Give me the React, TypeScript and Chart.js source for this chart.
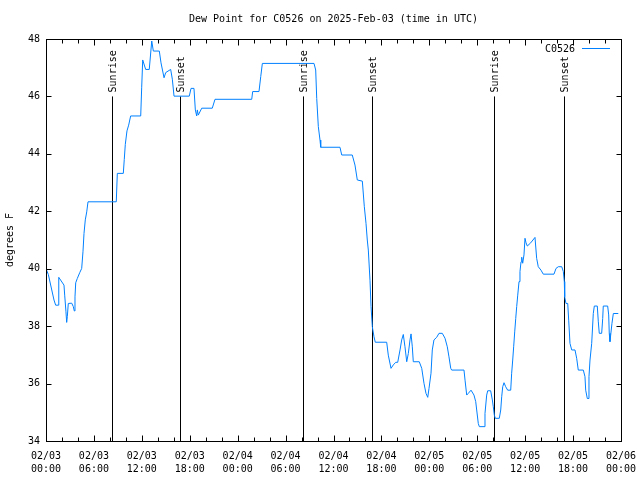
import React, { useEffect, useRef } from 'react';
import { Chart, registerables } from 'chart.js';

Chart.register(...registerables);

// Hours since 2025-02-03 00:00 UTC
const hours = [
  0.0, 0.29, 1.0, 1.21, 1.54, 1.6, 2.25, 2.34, 2.5, 2.59, 2.67, 2.79, 3.22, 3.42, 3.54, 3.63, 3.72, 3.92, 4.22, 4.47,
  4.63, 4.76, 4.92, 5.1, 5.26, 8.8, 8.93, 9.68, 9.8, 9.93, 10.14, 10.35, 10.6, 11.86, 11.98, 12.11, 12.48, 12.93, 13.24, 13.44,
  14.19, 14.4, 14.78, 14.99, 15.61, 15.82, 16.03, 17.94, 18.16, 18.53, 18.7, 18.87, 18.95, 19.07, 19.5, 20.82, 21.16, 25.76, 25.88, 26.67,
  26.89, 27.09, 33.56, 33.77, 33.9, 34.1, 34.31, 34.4, 36.81, 37.03, 38.35, 38.69, 38.98, 39.61, 39.86, 40.07, 40.23, 40.36, 40.57, 40.7,
  40.86, 41.07, 41.23, 42.66, 42.86, 43.2, 43.49, 43.79, 44.04, 44.33, 44.54, 44.74, 44.95, 45.17, 45.37, 45.58, 45.71, 45.87, 45.99, 46.74,
  47.05, 47.33, 47.58, 47.8, 47.96, 48.21, 48.37, 48.58, 48.92, 49.21, 49.62, 49.96, 50.25, 50.46, 50.68, 50.8, 52.34, 52.47, 52.68, 52.88,
  53.22, 53.59, 53.81, 53.93, 54.13, 54.26, 54.85, 54.97, 55.18, 55.31, 55.68, 55.89, 56.01, 56.14, 56.26, 56.76, 56.94, 57.06, 57.19, 57.35,
  57.56, 57.81, 58.19, 58.31, 58.44, 58.56, 58.69, 58.82, 58.94, 59.07, 59.23, 59.35, 59.48, 59.57, 59.69, 59.85, 59.98, 60.11, 60.27, 60.69,
  61.23, 61.44, 61.64, 61.98, 62.27, 63.61, 63.86, 64.15, 64.58, 64.78, 64.9, 64.95, 65.11, 65.33, 65.45, 65.61, 65.83, 66.24, 66.45, 66.65,
  67.28, 67.49, 67.58, 67.78, 67.87, 67.99, 68.12, 68.33, 68.53, 68.66, 69.03, 69.16, 69.28, 69.58, 69.71, 69.78, 70.33, 70.46, 70.53, 70.62,
  70.71, 70.87, 71.04, 71.66,
];

// Dew point, degrees F
const dewF = [
  40.0, 39.8, 38.91, 38.73, 38.73, 39.7, 39.43, 39.08, 38.5, 38.13, 38.33, 38.79, 38.8, 38.68, 38.53, 39.02, 39.51, 39.66, 39.86, 40.01,
  40.59, 41.23, 41.7, 41.98, 42.33, 42.33, 43.32, 43.32, 43.8, 44.33, 44.8, 45.0, 45.32, 45.32, 46.3, 47.27, 46.94, 46.94, 47.93, 47.58,
  47.58, 47.17, 46.65, 46.83, 46.94, 46.6, 46.01, 46.01, 46.28, 46.28, 45.53, 45.32, 45.53, 45.35, 45.59, 45.59, 45.9, 45.9, 46.17, 46.17,
  46.69, 47.15, 47.15, 46.92, 45.93, 44.95, 44.48, 44.23, 44.23, 43.96, 43.96, 43.61, 43.09, 43.05, 42.16, 41.58, 41.0, 40.65, 39.6, 38.68,
  37.98, 37.63, 37.44, 37.44, 36.99, 36.53, 36.65, 36.74, 36.74, 37.17, 37.52, 37.71, 37.28, 36.76, 37.05, 37.52, 37.73, 37.28, 36.76, 36.76,
  36.53, 36.01, 35.66, 35.52, 35.83, 36.36, 37.17, 37.52, 37.61, 37.75, 37.75, 37.58, 37.28, 36.93, 36.53, 36.47, 36.47, 36.12, 35.6, 35.66,
  35.77, 35.6, 35.37, 35.08, 34.61, 34.5, 34.5, 34.96, 35.6, 35.75, 35.75, 35.43, 35.19, 34.9, 34.79, 34.79, 35.08, 35.54, 35.89, 36.03,
  35.89, 35.77, 35.77, 36.36, 36.82, 37.28, 37.8, 38.27, 38.68, 39.08, 39.55, 39.9, 40.24, 40.4, 40.19, 40.48, 41.06, 40.9, 40.79, 40.9,
  41.09, 40.36, 40.07, 39.95, 39.81, 39.81, 40.01, 40.07, 40.07, 39.9, 39.55, 39.02, 38.79, 38.79, 38.21, 37.4, 37.17, 37.17, 36.88, 36.47,
  36.47, 36.24, 35.77, 35.48, 35.48, 36.24, 36.82, 37.4, 38.44, 38.7, 38.7, 38.15, 37.75, 37.75, 38.27, 38.7, 38.7, 38.39, 37.75, 37.46,
  37.69, 38.1, 38.44, 38.44,
];

const sunHours = [8.27, 16.78, 32.18, 40.82, 56.1, 64.86];
const sunLabels = ['Sunrise', 'Sunset', 'Sunrise', 'Sunset', 'Sunrise', 'Sunset'];
const sunLineTop = 46;

const xMin = 0;
const xMax = 72;
const xMinorStep = 2;
const xLabelStep = 6;
const yMin = 34;
const yMax = 48;
const yStep = 2;

const seriesName = 'C0526';
const titleText = 'Dew Point for C0526 on 2025-Feb-03 (time in UTC)';
const yTitle = 'degrees F';

const FONT = '"DejaVu Sans Mono", "Liberation Mono", monospace';
const LINE_COLOR = 'rgb(0, 128, 255)';

function xLabel(v: number): string | string[] {
  if (Math.abs(v % xLabelStep) > 1e-6) return '';
  const day = 3 + Math.floor(v / 24);
  const hh = Math.round(v % 24);
  return ['02/' + String(day).padStart(2, '0'), String(hh).padStart(2, '0') + ':00'];
}

const overlayPlugin = {
  id: 'gnuplotOverlay',
  beforeDatasetsDraw(chart: any) {
    const { ctx, chartArea, scales } = chart;
    const xs = scales.x;
    const ys = scales.y;
    ctx.save();
    ctx.strokeStyle = '#000';
    ctx.lineWidth = 1;
    ctx.fillStyle = '#000';
    ctx.font = '10px ' + FONT;
    const yTop = ys.getPixelForValue(sunLineTop);
    sunHours.forEach((h, i) => {
      const x = Math.round(xs.getPixelForValue(h)) + 0.5;
      ctx.beginPath();
      ctx.moveTo(x, yTop);
      ctx.lineTo(x, chartArea.bottom);
      ctx.stroke();
      ctx.save();
      ctx.translate(x + 1, yTop - 4);
      ctx.rotate(-Math.PI / 2);
      ctx.textAlign = 'left';
      ctx.textBaseline = 'middle';
      ctx.fillText(sunLabels[i], 0, 0);
      ctx.restore();
    });
    ctx.restore();
  },
  afterDraw(chart: any) {
    const { ctx, chartArea, scales } = chart;
    const xs = scales.x;
    const ys = scales.y;
    const L = Math.round(chartArea.left) + 0.5;
    const R = Math.round(chartArea.right) + 0.5;
    const T = Math.round(chartArea.top) + 0.5;
    const B = Math.round(chartArea.bottom) + 0.5;
    ctx.save();
    ctx.strokeStyle = '#000';
    ctx.lineWidth = 1;
    ctx.strokeRect(L, T, R - L, B - T);
    // inward ticks
    ctx.beginPath();
    for (let v = xMin; v <= xMax + 1e-6; v += xMinorStep) {
      const x = Math.round(xs.getPixelForValue(v)) + 0.5;
      const len = Math.abs(v % xLabelStep) < 1e-6 ? 6 : 4;
      ctx.moveTo(x, B);
      ctx.lineTo(x, B - len);
      ctx.moveTo(x, T);
      ctx.lineTo(x, T + len);
    }
    for (let v = yMin; v <= yMax + 1e-6; v += yStep) {
      const y = Math.round(ys.getPixelForValue(v)) + 0.5;
      ctx.moveTo(L, y);
      ctx.lineTo(L + 5, y);
      ctx.moveTo(R, y);
      ctx.lineTo(R - 5, y);
    }
    ctx.stroke();

    ctx.fillStyle = '#000';
    ctx.font = '10px ' + FONT;
    // title
    ctx.textAlign = 'center';
    ctx.textBaseline = 'middle';
    ctx.fillText(titleText, (chartArea.left + chartArea.right) / 2, 19);
    // y title
    ctx.save();
    ctx.translate(10, (chartArea.top + chartArea.bottom) / 2);
    ctx.rotate(-Math.PI / 2);
    ctx.textAlign = 'center';
    ctx.textBaseline = 'middle';
    ctx.fillText(yTitle, 0, 0);
    ctx.restore();
    // legend
    ctx.textAlign = 'right';
    ctx.textBaseline = 'middle';
    ctx.fillText(seriesName, chartArea.right - 46, chartArea.top + 10);
    ctx.strokeStyle = LINE_COLOR;
    ctx.beginPath();
    ctx.moveTo(chartArea.right - 39, chartArea.top + 9.5);
    ctx.lineTo(chartArea.right - 11, chartArea.top + 9.5);
    ctx.stroke();
    ctx.restore();
  },
};

export default function App() {
  const canvasRef = useRef<HTMLCanvasElement | null>(null);

  useEffect(() => {
    const canvas = canvasRef.current;
    if (!canvas) return;
    const data = hours.map((h, i) => ({ x: h, y: dewF[i] }));
    const chart = new Chart(canvas, {
      type: 'line',
      data: {
        datasets: [
          {
            label: seriesName,
            data,
            borderColor: LINE_COLOR,
            backgroundColor: LINE_COLOR,
            borderWidth: 1,
            pointRadius: 0,
            tension: 0,
            fill: false,
          },
        ],
      },
      options: {
        responsive: false,
        animation: false,
        devicePixelRatio: 1,
        layout: { padding: { left: 0, right: 19, top: 39, bottom: 0 } },
        plugins: {
          legend: { display: false },
          title: { display: false },
          tooltip: { enabled: false },
        },
        scales: {
          x: {
            type: 'linear',
            min: xMin,
            max: xMax,
            grid: { display: false, drawTicks: false },
            border: { display: false },
            ticks: {
              stepSize: xMinorStep,
              autoSkip: false,
              maxRotation: 0,
              minRotation: 0,
              padding: 9,
              color: '#000',
              font: { family: FONT, size: 10, lineHeight: 1.3 },
              callback: (v: any) => xLabel(Number(v)),
            },
            afterFit: (scale: any) => {
              scale.height = 39;
              scale.paddingLeft = 0;
              scale.paddingRight = 0;
            },
          },
          y: {
            type: 'linear',
            min: yMin,
            max: yMax,
            grid: { display: false, drawTicks: false },
            border: { display: false },
            ticks: {
              stepSize: yStep,
              padding: 6,
              color: '#000',
              font: { family: FONT, size: 10 },
            },
            afterFit: (scale: any) => {
              scale.width = 46;
              scale.paddingTop = 0;
              scale.paddingBottom = 0;
            },
          },
        },
      },
      plugins: [overlayPlugin],
    });
    return () => chart.destroy();
  }, []);

  return (
    <div style={{ position: 'fixed', left: 0, top: 0, width: 640, height: 480, background: '#fff' }}>
      <canvas ref={canvasRef} width={640} height={480} style={{ display: 'block' }} />
    </div>
  );
}
